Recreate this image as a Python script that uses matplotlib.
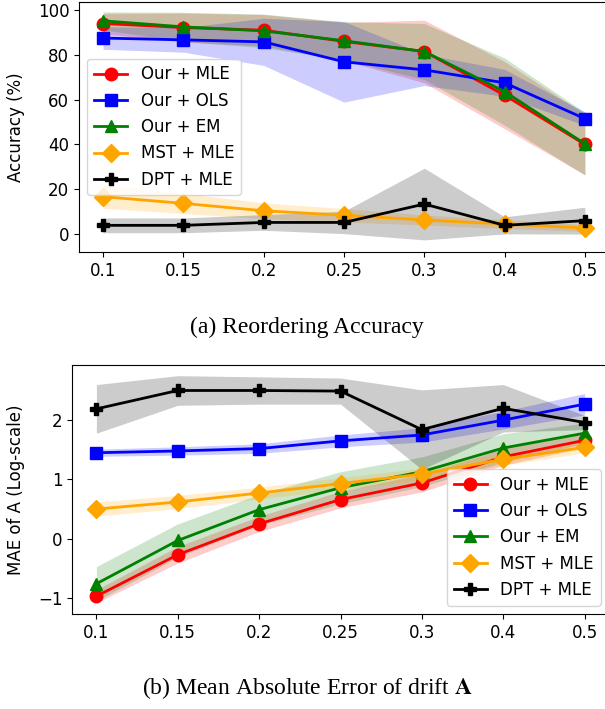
import numpy as np
import matplotlib
matplotlib.use('Agg')
import matplotlib.pyplot as plt

plt.rcParams['mathtext.fontset'] = 'stix'

x_labels = ['0.1', '0.15', '0.2', '0.25', '0.3', '0.4', '0.5']
methods = ['Our + MLE', 'Our + OLS', 'Our + EM', 'MST + MLE', 'DPT + MLE']
colors = ['red', 'blue', 'green', 'orange', 'black']
markers = ['o', 's', '^', 'D', 'P']

# (a) reordering accuracy, mean and std
acc_mle = [94.0, 92.2, 91.0, 86.0, 81.5, 62.0, 40.0]
acc_ols = [87.5, 86.7, 85.8, 76.9, 73.3, 67.5, 51.5]
acc_em = [95.2, 92.5, 90.7, 86.3, 81.5, 63.6, 40.3]
acc_mst = [16.7, 13.7, 10.4, 8.4, 6.3, 4.5, 2.7]
acc_dpt = [3.9, 3.9, 5.2, 5.2, 13.4, 3.9, 6.0]

acc_mle_std = [4.5, 6.5, 7.0, 8.5, 14.0, 15.0, 13.5]
acc_ols_std = [5.0, 5.5, 10.5, 18.0, 7.0, 6.0, 3.0]
acc_em_std = [4.0, 6.5, 7.5, 8.5, 12.5, 15.0, 14.0]
acc_mst_std = [5.2, 4.5, 3.5, 3.0, 2.2, 2.0, 1.5]
acc_dpt_std = [3.3, 3.3, 3.5, 5.0, 16.0, 3.8, 6.0]

# (b) MAE of drift A (log scale), mean and std
mae_mle = [-0.97, -0.27, 0.25, 0.66, 0.94, 1.38, 1.66]
mae_ols = [1.45, 1.48, 1.52, 1.65, 1.75, 2.00, 2.27]
mae_em = [-0.76, -0.03, 0.49, 0.86, 1.13, 1.53, 1.78]
mae_mst = [0.50, 0.62, 0.77, 0.93, 1.09, 1.34, 1.54]
mae_dpt = [2.19, 2.50, 2.50, 2.49, 1.84, 2.20, 1.96]

mae_mle_std = [0.11, 0.14, 0.13, 0.14, 0.15, 0.14, 0.12]
mae_ols_std = [0.06, 0.07, 0.08, 0.10, 0.12, 0.15, 0.18]
mae_em_std = [0.29, 0.28, 0.26, 0.27, 0.25, 0.24, 0.17]
mae_mst_std = [0.12, 0.11, 0.10, 0.10, 0.10, 0.10, 0.09]
mae_dpt_std = [0.41, 0.25, 0.23, 0.22, 0.67, 0.40, 0.12]

acc_means = [acc_mle, acc_ols, acc_em, acc_mst, acc_dpt]
acc_stds = [acc_mle_std, acc_ols_std, acc_em_std, acc_mst_std, acc_dpt_std]
mae_means = [mae_mle, mae_ols, mae_em, mae_mst, mae_dpt]
mae_stds = [mae_mle_std, mae_ols_std, mae_em_std, mae_mst_std, mae_dpt_std]

fig = plt.figure(figsize=(6.05, 7.09), dpi=100)
ax1 = fig.add_axes([79/605, 1-252/709, (609-79)/605, 250/709])
ax2 = fig.add_axes([72/605, 1-614/709, (609-72)/605, 249/709])

xs = np.arange(len(x_labels))

def draw(ax, means, stds):
    for m, s, c, mk, nm in zip(means, stds, colors, markers, methods):
        m = np.array(m)
        s = np.array(s)
        ax.plot(xs, m, color=c, marker=mk, markersize=9, linewidth=2, label=nm)
        ax.fill_between(xs, m - s, m + s, color=c, alpha=0.2, linewidth=0)
    ax.set_xticks(xs)
    ax.set_xticklabels(x_labels)
    ax.tick_params(labelsize=12)

draw(ax1, acc_means, acc_stds)
ax1.set_ylim(-8, 103.6)
ax1.set_xlim(-0.3, 6.3)
ax1.set_yticks([0, 20, 40, 60, 80, 100])
ax1.set_ylabel('Accuracy (%)', fontsize=12)
ax1.legend(loc='center left', fontsize=12)

draw(ax2, mae_means, mae_stds)
ax2.set_ylim(-1.27, 2.93)
ax2.set_xlim(-0.3, 6.3)
ax2.set_yticks([-1, 0, 1, 2])
ax2.set_ylabel('MAE of A (Log-scale)', fontsize=12)
ax2.legend(loc='lower right', fontsize=12)

ax1.yaxis.set_label_coords(-0.102, 0.5)
ax2.yaxis.set_label_coords(-0.088, 0.5)

fig.text(0.508, 1-327/709, '(a) Reordering Accuracy', family='Liberation Serif',
         fontsize=17, ha='center', va='center')
fig.text(0.508, 1-688/709, r'(b) Mean Absolute Error of drift $\mathbf{A}$',
         family='Liberation Serif', fontsize=17, ha='center', va='center')

fig.savefig('out.png', dpi=100)
